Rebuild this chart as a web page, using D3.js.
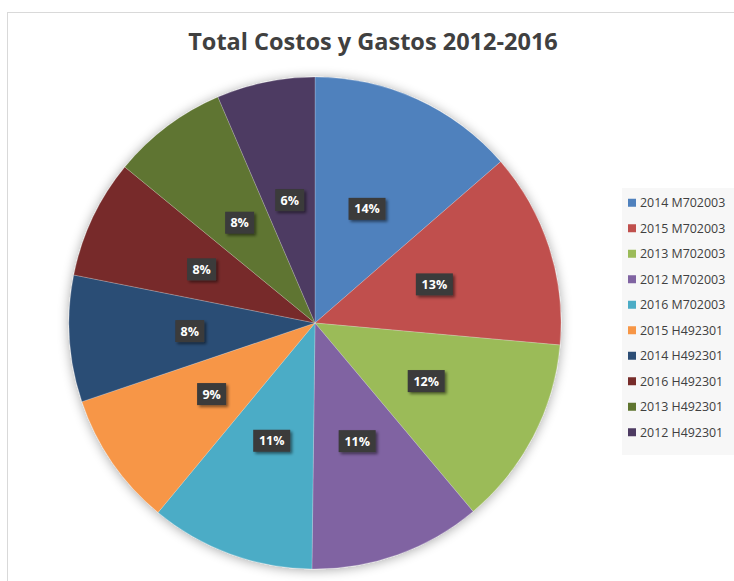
<!DOCTYPE html>
<meta charset="utf-8">
<style>
body { margin: 0; background: #fff; }
.title { font-family: "Open Sans", sans-serif; font-weight: bold; font-size: 23.5px; fill: #404040; }
.legend text { font-family: "Open Sans", sans-serif; font-size: 12.4px; fill: #404040; }
.lbl text { font-family: "Open Sans", sans-serif; font-weight: bold; font-size: 12.5px; fill: #fff; }
</style>
<svg width="734" height="581"></svg>
<script src="https://d3js.org/d3.v7.min.js"></script>
<script>

var categories = ["2014 M702003", "2015 M702003", "2013 M702003", "2012 M702003", "2016 M702003",
                  "2015 H492301", "2014 H492301", "2016 H492301", "2013 H492301", "2012 H492301"];
var values = [13.6, 12.8, 12.45, 11.3, 10.8, 8.8, 8.3, 7.8, 7.6, 6.45];
var colors = ["#4F81BD", "#C0504D", "#9BBB59", "#8064A2", "#4BACC6",
              "#F79646", "#2C4D75", "#772C2A", "#5F7530", "#4D3B62"];

var svg = d3.select("svg"),
    cx = 315, cy = 323, r = 246;

// chart frame
svg.append("rect")
    .attr("x", 7.5).attr("y", 12.5)
    .attr("width", 740).attr("height", 600)
    .attr("fill", "#fff").attr("stroke", "#d9d9d9");

var defs = svg.append("defs");
var f = defs.append("filter").attr("id", "pieShadow")
    .attr("x", "-10%").attr("y", "-10%").attr("width", "120%").attr("height", "120%");
f.append("feGaussianBlur").attr("in", "SourceAlpha").attr("stdDeviation", 6);
f.append("feOffset").attr("dx", 0).attr("dy", 1).attr("result", "b");
f.append("feComponentTransfer").append("feFuncA").attr("type", "linear").attr("slope", 0.35);
var m = f.append("feMerge");
m.append("feMergeNode");
m.append("feMergeNode").attr("in", "SourceGraphic");

var f2 = defs.append("filter").attr("id", "lblShadow")
    .attr("x", "-30%").attr("y", "-30%").attr("width", "160%").attr("height", "160%");
f2.append("feGaussianBlur").attr("in", "SourceAlpha").attr("stdDeviation", 1.5);
f2.append("feOffset").attr("dx", 2).attr("dy", 2);
f2.append("feComponentTransfer").append("feFuncA").attr("type", "linear").attr("slope", 0.5);
var m2 = f2.append("feMerge");
m2.append("feMergeNode");
m2.append("feMergeNode").attr("in", "SourceGraphic");

svg.append("text")
    .attr("class", "title")
    .attr("x", 373).attr("y", 50)
    .attr("text-anchor", "middle")
    .text("Total Costos y Gastos 2012-2016");

var total = d3.sum(values);
var pie = d3.pie().sort(null).value(function(d) { return d; });
var arcs = pie(values);
var arc = d3.arc().innerRadius(0).outerRadius(r);
var labelArc = d3.arc().innerRadius(r * 0.51).outerRadius(r * 0.51);

var g = svg.append("g").attr("transform", "translate(" + cx + "," + cy + ")");

g.append("g").attr("filter", "url(#pieShadow)")
  .selectAll("path")
  .data(arcs)
  .enter().append("path")
    .attr("d", arc)
    .attr("fill", function(d, i) { return colors[i]; })
    .attr("stroke", "rgba(255,255,255,0.35)")
    .attr("stroke-width", 0.6);

var lbl = g.selectAll(".lbl")
    .data(arcs)
  .enter().append("g")
    .attr("class", "lbl")
    .attr("transform", function(d) { return "translate(" + labelArc.centroid(d) + ")"; });

lbl.each(function(d) {
  var sel = d3.select(this);
  var txt = Math.round(d.value / total * 100) + "%";
  var w = txt.length * 8 + 13;
  sel.append("rect")
      .attr("x", -w / 2).attr("y", -11)
      .attr("width", w).attr("height", 22)
      .attr("fill", "#3a3a3a")
      .attr("filter", "url(#lblShadow)");
  sel.append("text")
      .attr("text-anchor", "middle")
      .attr("dy", "0.36em")
      .text(txt);
});

// legend
var lg = svg.append("g").attr("class", "legend");
lg.append("rect")
    .attr("x", 622).attr("y", 188)
    .attr("width", 120).attr("height", 267)
    .attr("fill", "#f7f7f7");

var y = d3.scaleBand().domain(categories).range([190, 445]);

var item = lg.selectAll(".item")
    .data(categories)
  .enter().append("g")
    .attr("class", "item")
    .attr("transform", function(d) { return "translate(628," + (y(d) + y.bandwidth() / 2) + ")"; });

item.append("rect")
    .attr("x", 0).attr("y", -4)
    .attr("width", 8).attr("height", 8)
    .attr("fill", function(d, i) { return colors[i]; });

item.append("text")
    .attr("x", 12)
    .attr("dy", "0.35em")
    .text(function(d) { return d; });

</script>
